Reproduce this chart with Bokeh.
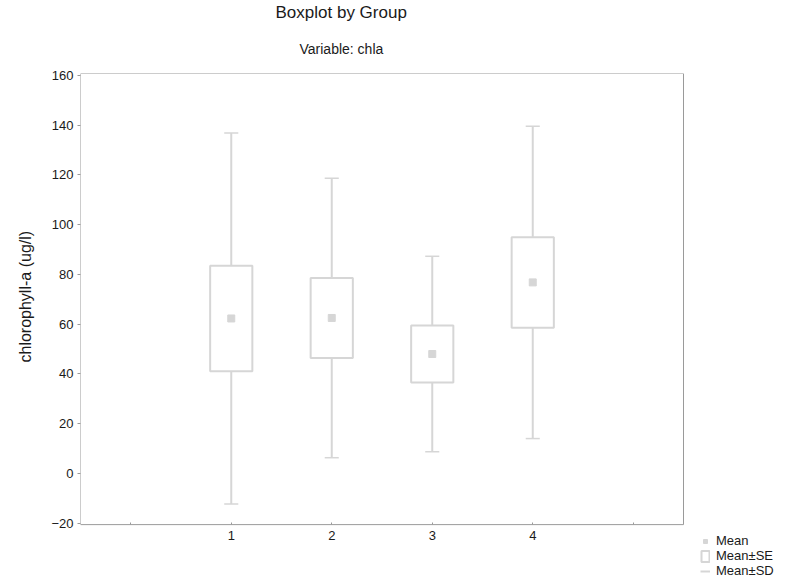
from bokeh.plotting import figure
from bokeh.models import FixedTicker, Range1d, Title, Legend, LegendItem, ColumnDataSource, LinearAxis
from bokeh.embed import file_html
from bokeh.resources import INLINE

# Chlorophyll-a by sampling group: mean, standard error and standard deviation (ug/l)
groups = [1, 2, 3, 4]
means = [62.3, 62.5, 48.0, 76.8]
std_err = [21.2, 16.1, 11.5, 18.2]
std_dev = [74.6, 56.2, 39.3, 62.8]

x_ticks = [0, 1, 2, 3, 4, 5]
x_tick_labels = {0: "", 1: "1", 2: "2", 3: "3", 4: "4", 5: ""}
y_ticks = [-20, 0, 20, 40, 60, 80, 100, 120, 140, 160]

FONT = "Liberation Sans"
INK = "#1a1a1a"
MARK = "#d6d6d6"
FRAME = "#9a9a9a"
CAP = 0.07

# Boxed plotting area in data units. The canvas frame runs on past it to the
# right and bottom edges so the tick labels and legend can sit outside the box.
X_LO, X_HI = -0.5, 5.5
Y_LO, Y_HI = -20.6, 160.8
BOX_W, BOX_H = 603, 452          # box size in pixels
PAD_R, PAD_B = 114, 58           # canvas space right of and below the box
px_x = BOX_W / (X_HI - X_LO)
px_y = BOX_H / (Y_HI - Y_LO)

src = ColumnDataSource(dict(
    x=groups,
    mean=means,
    se_lo=[m - s for m, s in zip(means, std_err)],
    se_hi=[m + s for m, s in zip(means, std_err)],
    sd_lo=[m - s for m, s in zip(means, std_dev)],
    sd_hi=[m + s for m, s in zip(means, std_dev)],
    cap_l=[g - CAP for g in groups],
    cap_r=[g + CAP for g in groups],
))

p = figure(
    width=797, height=582,
    x_range=Range1d(X_LO, X_HI + PAD_R / px_x),
    y_range=Range1d(Y_LO - PAD_B / px_y, Y_HI),
    output_backend="svg", toolbar_location=None,
    x_axis_location=None,
    min_border_left=80, min_border_right=0, min_border_bottom=0, min_border_top=72,
    background_fill_color="white", border_fill_color="white",
)

# titles: main title outermost, subtitle next to the frame
p.title.text = "Boxplot by Group"
p.title.align = "left"
p.title.offset = 195
p.title.text_font = FONT
p.title.text_font_size = "17px"
p.title.text_font_style = "normal"
p.title.text_color = INK
p.title.standoff = 0
p.add_layout(Title(text="Variable: chla", align="left", offset=219,
                   text_font=FONT, text_font_size="14px", text_font_style="normal",
                   text_color=INK, standoff=34), "above")

p.grid.visible = False
p.outline_line_color = None

# box around the plotting area
p.quad(left=[X_LO], right=[X_HI], bottom=[Y_LO], top=[Y_HI],
       fill_color=None, line_color=FRAME, line_width=1)

xaxis = LinearAxis(fixed_location=Y_LO)
p.add_layout(xaxis, "below")
xaxis.ticker = FixedTicker(ticks=x_ticks)
xaxis.major_label_overrides = x_tick_labels
xaxis.axis_line_color = None
xaxis.major_tick_in = 2
xaxis.major_tick_out = 0
xaxis.major_label_standoff = 6

yaxis = p.yaxis[0]
yaxis.ticker = FixedTicker(ticks=y_ticks)
yaxis.axis_line_color = None
yaxis.major_tick_in = 0
yaxis.major_tick_out = 3
yaxis.major_label_standoff = 4

for ax in (xaxis, yaxis):
    ax.major_tick_line_color = FRAME
    ax.minor_tick_line_color = None
    ax.major_label_text_font = FONT
    ax.major_label_text_font_size = "13px"
    ax.major_label_text_color = INK

# y-axis title, placed along the box rather than the whole canvas frame
p.add_layout(Title(text="chlorophyll-a (ug/l)", align="left", offset=PAD_B + 162,
                   text_font=FONT, text_font_size="16px", text_font_style="normal",
                   text_color=INK, standoff=29), "left")

# mean +/- SD whiskers with short caps
sd_up = p.segment(x0="x", y0="se_hi", x1="x", y1="sd_hi", source=src, line_color=MARK, line_width=2)
p.segment(x0="x", y0="se_lo", x1="x", y1="sd_lo", source=src, line_color=MARK, line_width=2)
p.segment(x0="cap_l", y0="sd_hi", x1="cap_r", y1="sd_hi", source=src, line_color=MARK, line_width=1.5)
p.segment(x0="cap_l", y0="sd_lo", x1="cap_r", y1="sd_lo", source=src, line_color=MARK, line_width=1.5)

# mean +/- SE boxes
box = p.vbar(x="x", width=0.42, bottom="se_lo", top="se_hi", source=src,
             fill_color="white", line_color=MARK, line_width=2)

# means
mean_pts = p.scatter(x="x", y="mean", source=src, marker="square", size=7,
                     fill_color=MARK, line_color=MARK)

legend = Legend(
    items=[LegendItem(label="Mean", renderers=[mean_pts]),
           LegendItem(label="Mean\u00b1SE", renderers=[box]),
           LegendItem(label="Mean\u00b1SD", renderers=[sd_up])],
    location=(BOX_W + 17, 4),
    label_text_font=FONT, label_text_font_size="13px", label_text_color=INK,
    glyph_width=10, glyph_height=14, label_height=14,
    spacing=0, padding=0, label_standoff=6,
    border_line_color=None, background_fill_alpha=0,
)
p.add_layout(legend, "center")

open("out.html", "w").write(file_html(p, INLINE))
